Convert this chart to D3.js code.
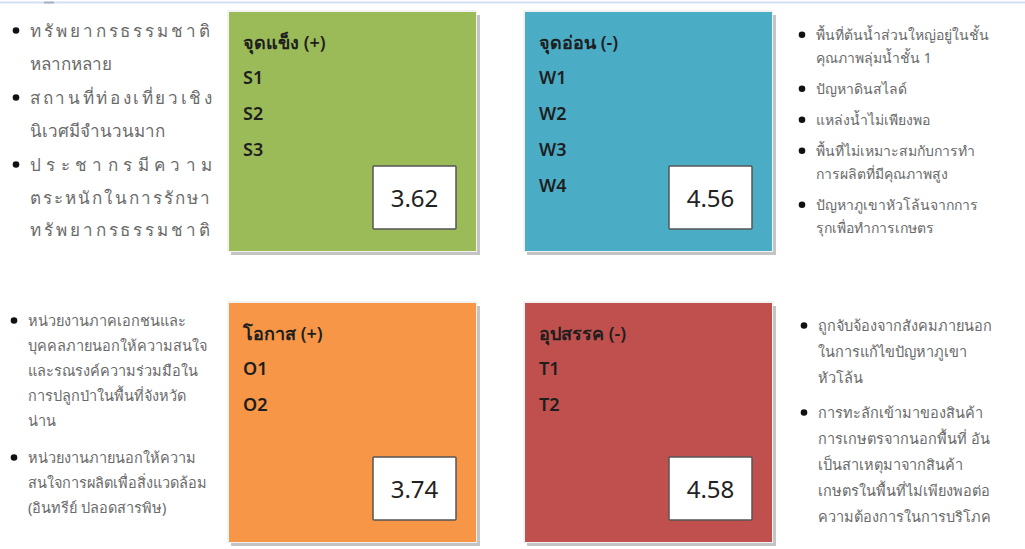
<!DOCTYPE html>
<html>
<head>
<meta charset="utf-8">
<script src="https://cdn.jsdelivr.net/npm/d3@7"></script>
<style>
  body { margin: 0; background: #fff; }
  svg { display: block; font-family: "Noto Sans", "DejaVu Sans", sans-serif; }
</style>
</head>
<body>
<div id="chart"></div>
<script>
// quadrant data
const quadrants = ["S", "W", "O", "T"];
const titles = ["จุดแข็ง (+)", "จุดอ่อน (-)", "โอกาส (+)", "อุปสรรค (-)"];
const items = [["S1", "S2", "S3"], ["W1", "W2", "W3", "W4"], ["O1", "O2"], ["T1", "T2"]];
const scores = [3.62, 4.56, 3.74, 4.58];
const colors = ["#9bbb59", "#4bacc6", "#f79646", "#c0504d"];

// side notes, one list of bullets per quadrant, each bullet a list of lines
const notesS = [
  ["ทรัพยากรธรรมชาติ", "หลากหลาย"],
  ["สถานที่ท่องเที่ยวเชิง", "นิเวศมีจำนวนมาก"],
  ["ประชากรมีความ", "ตระหนักในการรักษา", "ทรัพยากรธรรมชาติ"]
];
const notesW = [
  ["พื้นที่ต้นน้ำส่วนใหญ่อยู่ในชั้น", "คุณภาพลุ่มน้ำชั้น 1"],
  ["ปัญหาดินสไลด์"],
  ["แหล่งน้ำไม่เพียงพอ"],
  ["พื้นที่ไม่เหมาะสมกับการทำ", "การผลิตที่มีคุณภาพสูง"],
  ["ปัญหาภูเขาหัวโล้นจากการ", "รุกเพื่อทำการเกษตร"]
];
const notesO = [
  ["หน่วยงานภาคเอกชนและ", "บุคคลภายนอกให้ความสนใจ", "และรณรงค์ความร่วมมือใน", "การปลูกป่าในพื้นที่จังหวัด", "น่าน"],
  ["หน่วยงานภายนอกให้ความ", "สนใจการผลิตเพื่อสิ่งแวดล้อม", "(อินทรีย์ ปลอดสารพิษ)"]
];
const notesT = [
  ["ถูกจับจ้องจากสังคมภายนอก", "ในการแก้ไขปัญหาภูเขา", "หัวโล้น"],
  ["การทะลักเข้ามาของสินค้า", "การเกษตรจากนอกพื้นที่ อัน", "เป็นสาเหตุมาจากสินค้า", "เกษตรในพื้นที่ไม่เพียงพอต่อ", "ความต้องการในการบริโภค"]
];

const w = 1025;
const h = 549;

const svg = d3.select("#chart")
  .append("svg")
  .attr("width", w)
  .attr("height", h);

// thin rule at the very top
svg.append("line")
  .attr("x1", 0).attr("x2", w)
  .attr("y1", 2.5).attr("y2", 2.5)
  .attr("stroke", "#d3dff0")
  .attr("stroke-width", 2);
svg.append("line")
  .attr("x1", 44).attr("x2", 54)
  .attr("y1", 2.5).attr("y2", 2.5)
  .attr("stroke", "#a9b3c0")
  .attr("stroke-width", 2);

// grid of boxes: column = S/O vs W/T, row = S/W vs O/T
const xScale = d3.scaleBand()
  .domain([0, 1])
  .range([229, 772])
  .paddingInner(0.1655);

const yScale = d3.scaleBand()
  .domain([0, 1])
  .range([12, 542])
  .paddingInner(0.1787);

const col = (i) => i % 2;
const row = (i) => Math.floor(i / 2);

const box = svg.selectAll("g.quad")
  .data(quadrants)
  .enter()
  .append("g")
  .attr("class", "quad")
  .attr("transform", (d, i) => "translate(" + xScale(col(i)) + "," + yScale(row(i)) + ")");

const bw = xScale.bandwidth();
const bh = yScale.bandwidth();

// shadow
box.append("rect")
  .attr("x", 2).attr("y", 3)
  .attr("width", bw + 2).attr("height", bh + 1)
  .attr("fill", "#c4c4c4");
box.append("rect")
  .attr("x", -2).attr("y", -2)
  .attr("width", bw + 3).attr("height", bh + 3)
  .attr("fill", "#f2f2f2");

box.append("rect")
  .attr("width", bw)
  .attr("height", bh)
  .attr("fill", (d, i) => colors[i]);

box.append("text")
  .attr("x", 14)
  .attr("y", 37)
  .attr("font-size", 18)
  .attr("font-weight", 600)
  .attr("fill", "#1e1e1e")
  .text((d, i) => titles[i]);

box.each(function(d, i) {
  d3.select(this).selectAll("text.item")
    .data(items[i])
    .enter()
    .append("text")
    .attr("class", "item")
    .attr("x", 14)
    .attr("y", (t, j) => 72 + j * 36)
    .attr("font-size", 18)
    .attr("font-weight", 600)
    .attr("fill", "#1e1e1e")
    .text((t) => t);
});

// score boxes
const sx = bw - 103;
const sy = bh - 85;
box.append("rect")
  .attr("x", sx)
  .attr("y", sy)
  .attr("width", 83)
  .attr("height", 63)
  .attr("fill", "#fff")
  .attr("stroke", "#555")
  .attr("stroke-width", 1.5)
  .attr("rx", 1);

box.append("text")
  .attr("x", sx + 41.5)
  .attr("y", sy + 41)
  .attr("text-anchor", "middle")
  .attr("font-size", 24)
  .attr("fill", "#222")
  .text((d, i) => d3.format(".2f")(scores[i]));

// side notes
function drawNotes(notes, x, y0, lineH, gap, size, justify) {
  const g = svg.append("g");
  let y = y0;
  notes.forEach((lines) => {
    g.append("circle")
      .attr("cx", x - 14)
      .attr("cy", y - size * 0.38)
      .attr("r", 3.3)
      .attr("fill", "#111");
    lines.forEach((line, k) => {
      const t = g.append("text")
        .attr("x", x)
        .attr("y", y)
        .attr("font-size", size)
        .attr("fill", "#6a6a6a")
        .text(line);
      if (justify && justify[line]) {
        t.attr("textLength", justify[line]).attr("lengthAdjust", "spacing");
      }
      y += lineH;
    });
    y += gap;
  });
}

drawNotes(notesS, 30, 37, 32.5, 2, 17, {
  "ทรัพยากรธรรมชาติ": 180,
  "สถานที่ท่องเที่ยวเชิง": 182,
  "ประชากรมีความ": 182,
  "ตระหนักในการรักษา": 180
});
drawNotes(notesW, 816, 40, 23, 8, 14, null);
drawNotes(notesO, 28, 326, 25, 12, 14.5, null);
drawNotes(notesT, 818, 331, 26, 9, 14.5, null);
</script>
</body>
</html>
